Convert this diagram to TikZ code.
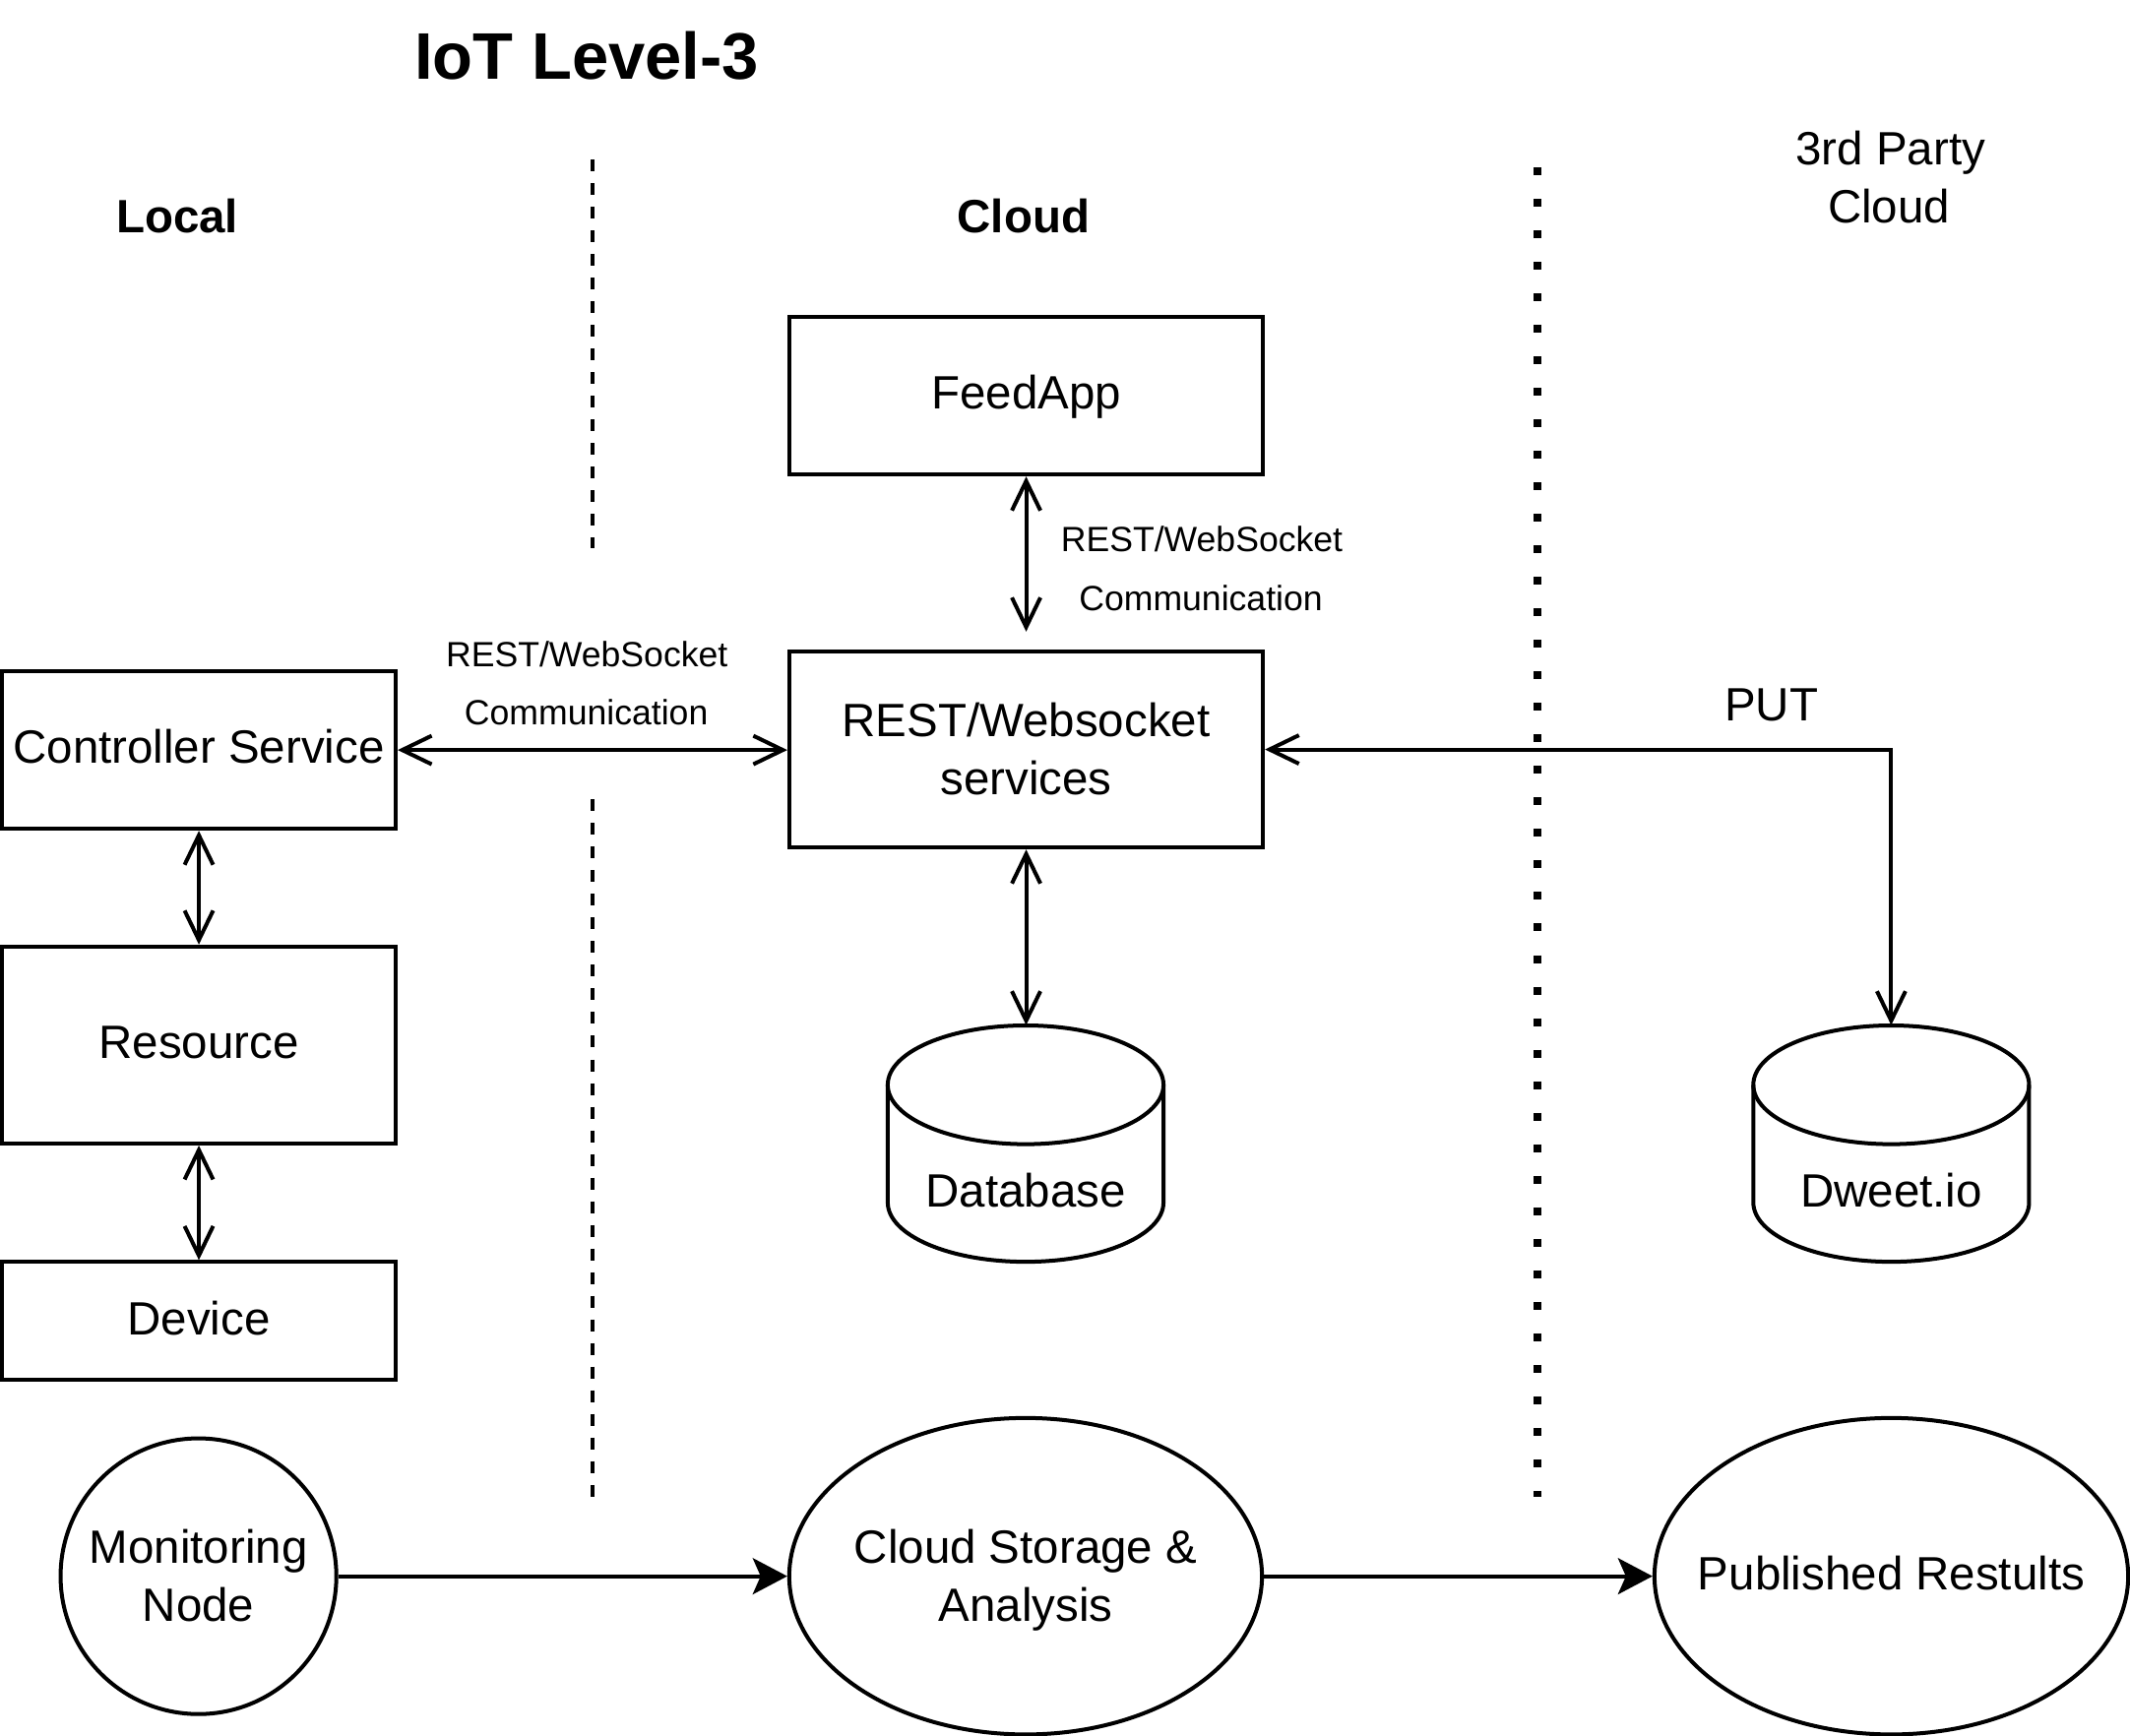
\documentclass[tikz,border=0pt]{standalone}
\usepackage{fontspec}
\setmainfont{Liberation Sans}
\usetikzlibrary{arrows.meta,shapes.geometric}
\newcommand{\twol}[2]{\rule{0pt}{32pt}#1\\#2\rule[-8.3pt]{0pt}{8.3pt}}
\begin{document}
\begin{tikzpicture}[x=1pt,y=-1pt,
  lw/.style={line width=2.9pt},
  mytxt/.style={font=\fontsize{34.4}{43}\selectfont},
  mysmall/.style={font=\fontsize{25.8}{42.7}\selectfont, anchor=base, inner sep=0pt},
  mybig/.style={font=\fontsize{34.4}{43}\selectfont, anchor=base, inner sep=0pt},
  myhead/.style={font=\fontsize{34.4}{43}\selectfont\bfseries, anchor=base, inner sep=0pt},
  mytitle/.style={font=\fontsize{48.5}{58}\selectfont\bfseries, anchor=base, inner sep=0pt},
  boxn/.style={draw, rectangle, lw, inner sep=0pt, mytxt, align=center},
  oneline/.style={text height=28.2pt, text depth=8.3pt},
  ellt/.style={mytxt, align=center, inner sep=0pt},
  ell/.style={draw, ellipse, lw, inner sep=0pt},
  cylbox/.style={rectangle, inner sep=0pt, minimum width=203pt, minimum height=174pt},
  biarrow/.style={lw, {Straight Barb[length=21.7pt,width=21pt]}-{Straight Barb[length=21.7pt,width=21pt]}},
  flow/.style={lw, -{Stealth[length=25.4pt,width=26.6pt,inset=5.8pt]}},
  sepdash/.style={lw, dash pattern=on 8.7pt off 8.7pt},
  sepdot/.style={line width=5.8pt, dash pattern=on 5.8pt off 17.4pt},
]
\useasboundingbox (0,0) rectangle (1568,1278);

% titles
\node[mytitle] (title) at (432,58.2) {IoT Level-3};
\node[myhead] (local) at (130.5,171.4) {Local};
\node[myhead] (cloud) at (753.5,171.4) {Cloud};
\node[mybig] (tp1) at (1391.8,121.5) {3rd Party};
\node[mybig] (tp2) at (1390.6,164.3) {Cloud};

% separators
\draw[sepdash] (436.2,117.4) -- (436.2,403.6);
\draw[sepdash] (436.2,588.6) -- (436.2,1102);
\draw[sepdot] (1131.9,123.2) -- (1131.9,1102);

% boxes
\node[boxn, oneline, minimum width=348.7pt, minimum height=116pt] (feed) at (755.4,291.4) {FeedApp};
\node[boxn, minimum width=348.7pt, minimum height=144.4pt] (rest) at (755.4,551.8) {\twol{REST/Websocket}{services}};
\node[boxn, oneline, minimum width=289.8pt, minimum height=116pt] (ctrl) at (146.4,552.2) {Controller Service};
\node[boxn, oneline, minimum width=289.8pt, minimum height=145pt] (res) at (146.4,769.4) {Resource};
\node[boxn, oneline, minimum width=289.8pt, minimum height=87pt] (dev) at (146.4,972.7) {Device};

% cylinders
\node[cylbox] (db) at (755,842) {};
\draw[lw] (755-101.5,798.7) -- (755-101.5,885.3) arc[start angle=180, end angle=360, x radius=101.5pt, y radius=43.7pt] -- (755+101.5,798.7);
\draw[lw] (755,798.7) ellipse [x radius=101.5pt, y radius=43.7pt];
\node[mybig] (dbt) at (755,889) {Database};

\node[cylbox] (dweet) at (1392.2,842) {};
\draw[lw] (1392.2-101.5,798.7) -- (1392.2-101.5,885.3) arc[start angle=180, end angle=360, x radius=101.5pt, y radius=43.7pt] -- (1392.2+101.5,798.7);
\draw[lw] (1392.2,798.7) ellipse [x radius=101.5pt, y radius=43.7pt];
\node[mybig] (dweett) at (1392.2,889) {Dweet.io};

% ellipses
\node[ell, minimum width=203pt, minimum height=203pt, label={[ellt]center:{\twol{Monitoring}{Node}}}] (mon) at (146.1,1160.5) {};
\node[ell, minimum width=348pt, minimum height=233pt, label={[ellt]center:{\twol{Cloud Storage \&}{Analysis}}}] (cs) at (755,1160.5) {};
\node[ell, minimum width=348.7pt, minimum height=233pt, label={[ellt, oneline]center:{Published Restults}}] (pub) at (1392.3,1160.5) {};

% labels
\node[mysmall] (lab1a) at (432,491) {REST/WebSocket};
\node[mysmall] (lab1b) at (431.6,533.7) {Communication};
\node[mysmall] (lab2a) at (884.7,406.4) {REST/WebSocket};
\node[mysmall] (lab2b) at (884,449.3) {Communication};
\node[mybig] (put) at (1304,530.4) {PUT};

% connectors
\coordinate (feedend) at (755.4,465);
\draw[biarrow] (ctrl.east) -- (ctrl.east -| rest.west);
\draw[biarrow] (feed.south) -- (feedend);
\draw[biarrow] (rest.south) -- (rest.south |- db.north);
\draw[biarrow] (ctrl.south) -- (res.north);
\draw[biarrow] (res.south) -- (dev.north);
\draw[biarrow] (rest.east) -| (dweet.north);
\draw[flow] (mon.east) -- (cs.west);
\draw[flow] (cs.east) -- (pub.west);
\end{tikzpicture}
\end{document}
